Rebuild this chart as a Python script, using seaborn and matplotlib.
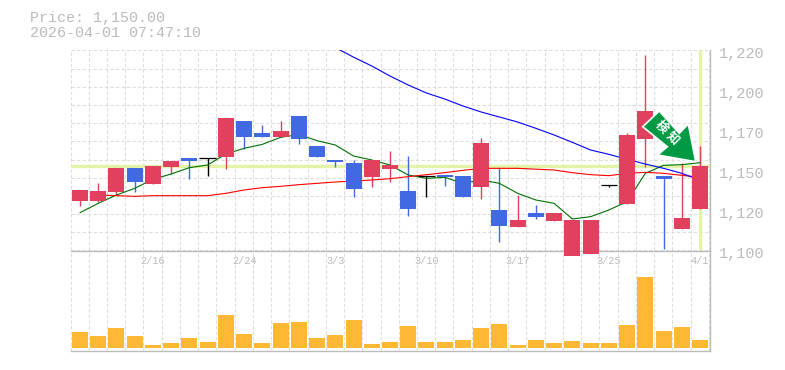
import matplotlib
matplotlib.use('Agg')
import matplotlib.pyplot as plt
from matplotlib.patches import Polygon
import numpy as np
import pandas as pd
import seaborn as sns

# values
opens = [1129.7, 1129.7, 1135.1, 1149.5, 1139.9, 1150.1, 1155.5, 1155.3, 1156.1, 1177.7, 1170.5, 1168.1,
         1180.7, 1162.7, 1154.3, 1152.5, 1144.1, 1148.9, 1135.7, 1144.5, 1145.3, 1144.7, 1138.1, 1124.3,
         1114.1, 1122.5, 1117.7, 1096.7, 1097.9, 1139.1, 1127.9, 1166.9, 1144.7, 1112.9, 1124.9]
closes = [1136.3, 1135.7, 1149.5, 1141.1, 1150.7, 1153.7, 1153.7, 1155.3, 1179.5, 1168.1, 1168.1, 1171.7,
          1166.9, 1156.1, 1153.1, 1136.9, 1154.3, 1151.3, 1124.9, 1144.5, 1144.1, 1132.1, 1164.5, 1114.7,
          1118.3, 1120.1, 1122.5, 1118.3, 1118.3, 1139.1, 1169.3, 1183.7, 1142.9, 1119.5, 1150.7]
highs = [1136.3, 1140.5, 1149.5, 1149.5, 1150.7, 1153.7, 1155.5, 1155.3, 1179.5, 1177.7, 1175.3, 1177.7,
         1180.7, 1162.7, 1154.3, 1154.3, 1154.3, 1159.7, 1156.7, 1144.5, 1145.3, 1144.7, 1167.5, 1149.5,
         1133.3, 1127.3, 1122.5, 1118.3, 1118.3, 1139.1, 1170.5, 1217.3, 1144.7, 1152.5, 1162.7]
lows = [1126.7, 1129.1, 1133.3, 1135.1, 1139.9, 1145.9, 1142.9, 1144.7, 1148.9, 1160.9, 1168.1, 1168.1,
        1163.9, 1156.1, 1150.1, 1132.1, 1138.1, 1141.1, 1120.7, 1132.1, 1138.7, 1132.1, 1130.9, 1105.1,
        1114.1, 1118.9, 1117.7, 1096.7, 1097.9, 1138.1, 1127.9, 1150.1, 1100.9, 1112.9, 1124.9]
colors = ['r', 'r', 'r', 'b', 'r', 'r', 'b', 'k', 'r', 'b', 'b', 'r', 'b', 'b', 'b', 'b', 'r', 'r',
          'b', 'k', 'b', 'b', 'r', 'b', 'r', 'b', 'r', 'r', 'r', 'k', 'r', 'r', 'b', 'r', 'r']
volumes = [16, 12, 20, 12, 3, 5, 10, 6, 33, 14, 5, 25, 26, 10, 13, 28, 4, 6, 22, 6, 6, 8, 20, 24, 3, 8, 5,
           7, 5, 5, 23, 71, 17, 21, 8]
ma_green = [1122.7, 1128.3, 1133.3, 1137.3, 1142.7, 1145.9, 1149.7, 1151.3, 1157.9, 1161.3, 1163.7, 1167.9,
            1169.6, 1165.9, 1163.3, 1156.7, 1154.3, 1151.3, 1145.3, 1143.3, 1143.9, 1140.3, 1142.3, 1140.3,
            1134.3, 1130.3, 1128.3, 1118.9, 1120.3, 1124.3, 1129.3, 1146.3, 1151.1, 1151.5, 1152.7]
ma_red = [np.nan, 1133.3, 1132.9, 1132.5, 1132.9, 1132.9, 1132.9, 1132.9, 1134.3, 1136.3, 1137.7, 1138.5,
          1139.5, 1140.3, 1141.1, 1141.7, 1142.3, 1143.1, 1144.3, 1145.5, 1146.7, 1148.1, 1149.3, 1149.3,
          1149.3, 1148.8, 1148.3, 1146.7, 1145.5, 1144.9, 1146.3, 1146.9, 1146.3, 1145.1, 1143.9]
ma_blue = [np.nan] * 13 + [1227.5, 1221.8, 1216.0, 1210.7, 1204.7, 1199.3, 1194.5, 1190.9, 1186.7, 1183.1,
                           1180.1, 1177.1, 1173.3, 1169.3, 1164.9, 1160.3, 1157.7, 1154.7, 1151.9, 1149.3,
                           1146.3, 1142.3]
date_pos = [4, 9, 14, 19, 24, 29, 34]
date_labels = ['2/16', '2/24', '3/3', '3/10', '3/17', '3/25', '4/1']
price_ticks = [1100, 1124, 1148, 1172, 1196, 1220]
price_labels = ['1,100', '1,120', '1,150', '1,170', '1,200', '1,220']
last_price = 1150.7

palette = {'r': '#e2405f', 'b': '#4169e1', 'k': 'black'}
GRAY = '#bbbbbb'
GRID = '#dddddd'
YELLOW = '#e3f4a8'
MONO = 'Liberation Mono'
W, H = 785, 370
DASH = (0, (3, 2))

df = pd.DataFrame({'i': range(len(volumes)), 'o': opens, 'c': closes, 'h': highs, 'l': lows,
                   'col': colors, 'vol': volumes, 'green': ma_green, 'red': ma_red, 'blue': ma_blue})
df['top'] = df[['o', 'c']].max(axis=1)
df['bot'] = df[['o', 'c']].min(axis=1)

sns.set_theme(style='white')
plt.rcParams['font.family'] = ['Noto Sans CJK JP', 'DejaVu Sans']

fig = plt.figure(figsize=(W / 100, H / 100), dpi=100)
ax_vol = fig.add_axes([70.5 / W, 1 - 350.5 / H, 639 / W, 100 / H])
ax = fig.add_axes([70.5 / W, 1 - 250.5 / H, 639 / W, 200.5 / H], sharex=ax_vol)
ax.set_zorder(2)
ax.patch.set_visible(False)

x_lim = (-0.52, 34.52)
x_grid = np.arange(-0.52, 34.6, 1.0)
ax.set_xlim(*x_lim)
ax.set_ylim(1100, 1220.3)
ax_vol.set_ylim(-2.5, 97.5)

for a in (ax, ax_vol):
    a.tick_params(length=0, labelbottom=False, labelleft=False)
    a.vlines(x_grid, *a.get_ylim(), color=GRID, lw=0.8, ls=DASH, zorder=0)
    for s in ('top', 'left'):
        a.spines[s].set_visible(False)
    for s in ('right', 'bottom'):
        a.spines[s].set_color(GRAY)
        a.spines[s].set_linewidth(1.0)

ax.hlines(np.linspace(1100, 1220, 12), *x_lim, color=GRID, lw=0.8, ls=DASH, zorder=0)

# current price guides
ax.axhline(last_price, color=YELLOW, lw=2.4, zorder=1)
ax.vlines(34, 1100.5, 1220, color=YELLOW, lw=2.4, zorder=1)

# wicks and candle bodies
ax.vlines(df['i'], df['l'], df['h'], colors=df['col'].map(palette), lw=1.0, zorder=2)
for key, sub in df.groupby('col'):
    if key == 'k':
        ax.hlines(sub['c'], sub['i'] - 0.45, sub['i'] + 0.45, color='black', lw=0.9, zorder=3)
    else:
        ax.bar(sub['i'], sub['top'] - sub['bot'], bottom=sub['bot'], width=0.88, color=palette[key],
               zorder=3, linewidth=0)
for b in ax.patches:
    b.set_clip_on(False)

# moving averages sit under the candle bodies
sns.lineplot(data=df, x='i', y='green', ax=ax, color='#007000', lw=0.8, zorder=2.5, errorbar=None)
sns.lineplot(data=df, x='i', y='red', ax=ax, color='#ff0000', lw=0.8, zorder=2.5, errorbar=None)
sns.lineplot(data=df, x='i', y='blue', ax=ax, color='#0000ff', lw=0.8, zorder=2.5, errorbar=None)

# volume
sns.barplot(data=df, x='i', y='vol', ax=ax_vol, native_scale=True, color='#ffb833', width=0.88,
            saturation=1, linewidth=0, zorder=2)

ax.set_xlim(*x_lim)
ax.set_xlabel('')
ax.set_ylabel('')
ax_vol.set_xlabel('')
ax_vol.set_ylabel('')

for p, lab in zip(date_pos, date_labels):
    ax_vol.text(p, 1 - 11 / 100, lab, transform=ax_vol.get_xaxis_transform(), ha='center', va='center',
                family=MONO, fontsize=7.4, color=GRAY)
for t, lab in zip(price_ticks, price_labels):
    ax.text(1 + 9.5 / 639, t - 2.0, lab, transform=ax.get_yaxis_transform(), ha='left', va='center',
            family=MONO, fontsize=11, color=GRAY)

fig.text(30 / W, 1 - 18 / H, 'Price: 1,150.00', family=MONO, fontsize=10.8, color=GRAY, ha='left', va='center')
fig.text(30 / W, 1 - 33 / H, '2026-04-01 07:47:10', family=MONO, fontsize=10.8, color=GRAY, ha='left', va='center')

# signal arrow, placed in pixels
arrow_px = np.array([[659.3, 111], [642.7, 126.7], [667.3, 146.7], [657.7, 155], [695.7, 161.7],
                     [688.3, 124], [679.3, 133.3]])
arrow_xy = np.c_[arrow_px[:, 0] / W, 1 - arrow_px[:, 1] / H]
fig.add_artist(Polygon(arrow_xy, closed=True, transform=fig.transFigure, facecolor='#009944',
                       edgecolor='white', lw=1.2, zorder=10))
fig.text(661.5 / W, 1 - 127 / H, '検', fontsize=9, fontweight='bold', color='white', rotation=-45,
         ha='center', va='center', zorder=11)
fig.text(672.5 / W, 1 - 138 / H, '知', fontsize=9, fontweight='bold', color='white', rotation=-45,
         ha='center', va='center', zorder=11)

fig.savefig('out.png', dpi=100, facecolor='white')
